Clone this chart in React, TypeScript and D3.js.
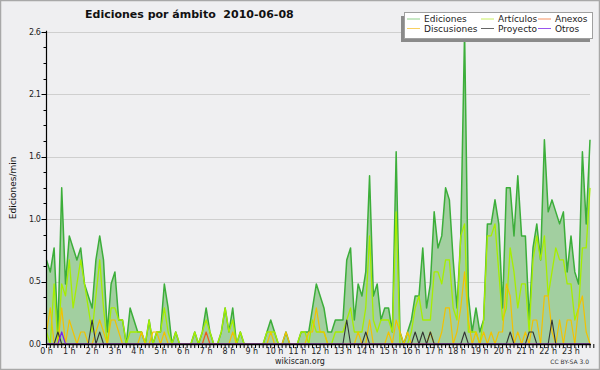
import React from "react";
import * as d3 from "d3";

// 10-minute bins, edits per minute
const ediciones = [
  0.7, 0.6, 0.8, 0.1, 1.3, 0.5,
  0.9, 0.8, 0.7, 0.8, 0.5, 0.4,
  0.3, 0.7, 0.9, 0.7, 0.1, 0.5,
  0.6, 0.2, 0.2, 0.0, 0.3, 0.2,
  0.1, 0.1, 0.0, 0.2, 0.0, 0.1,
  0.1, 0.5, 0.3, 0.0, 0.1, 0.0,
  0.0, 0.0, 0.0, 0.1, 0.0, 0.1,
  0.3, 0.1, 0.0, 0.0, 0.1, 0.3,
  0.1, 0.3, 0.0, 0.1, 0.0, 0.0,
  0.0, 0.0, 0.0, 0.0, 0.1, 0.2,
  0.1, 0.0, 0.0, 0.1, 0.0, 0.0,
  0.0, 0.1, 0.1, 0.1, 0.3, 0.5,
  0.4, 0.3, 0.1, 0.1, 0.2, 0.2,
  0.2, 0.7, 0.8, 0.2, 0.5, 0.4,
  0.6, 1.4, 0.4, 0.5, 0.2, 0.3,
  0.3, 0.1, 1.6, 0.1, 0.0, 0.1,
  0.2, 0.4, 0.4, 0.8, 0.3, 0.5,
  1.1, 0.8, 0.9, 1.3, 1.2, 0.7,
  0.3, 0.9, 2.6, 0.4, 0.1, 0.3,
  0.1, 0.2, 1.0, 1.0, 1.2, 1.0,
  0.3, 1.3, 1.3, 0.9, 1.4, 0.9,
  0.9, 0.2, 0.8, 1.0, 0.7, 1.7,
  1.1, 1.2, 1.1, 1.0, 1.1, 0.6,
  0.9, 0.6, 0.5, 1.6, 1.0, 1.7,
];

const articulos = [
  0.1, 0.0, 0.5, 0.0, 0.5, 0.4,
  0.7, 0.3, 0.5, 0.7, 0.5, 0.3,
  0.1, 0.4, 0.7, 0.3, 0.0, 0.3,
  0.3, 0.2, 0.2, 0.0, 0.1, 0.1,
  0.1, 0.1, 0.0, 0.2, 0.0, 0.1,
  0.1, 0.3, 0.1, 0.0, 0.1, 0.0,
  0.0, 0.0, 0.0, 0.1, 0.0, 0.1,
  0.2, 0.1, 0.0, 0.0, 0.1, 0.3,
  0.1, 0.2, 0.0, 0.1, 0.0, 0.0,
  0.0, 0.0, 0.0, 0.0, 0.1, 0.1,
  0.1, 0.0, 0.0, 0.0, 0.0, 0.0,
  0.0, 0.1, 0.1, 0.0, 0.2, 0.1,
  0.1, 0.1, 0.0, 0.0, 0.1, 0.1,
  0.1, 0.2, 0.3, 0.1, 0.1, 0.1,
  0.3, 0.9, 0.2, 0.1, 0.2, 0.2,
  0.2, 0.1, 1.1, 0.0, 0.0, 0.0,
  0.1, 0.3, 0.4, 0.2, 0.2, 0.2,
  0.6, 0.6, 0.5, 0.7, 0.7, 0.3,
  0.2, 0.9, 1.0, 0.1, 0.1, 0.1,
  0.0, 0.2, 0.9, 0.9, 1.0, 0.6,
  0.2, 0.3, 0.8, 0.6, 0.3, 0.5,
  0.5, 0.1, 0.7, 0.9, 0.7, 0.9,
  0.4, 0.6, 0.8, 0.7, 0.7, 0.5,
  0.5, 0.2, 0.3, 0.8, 0.8, 1.3,
];

const discusiones = [
  0.1, 0.3, 0.0, 0.0, 0.3, 0.0,
  0.2, 0.1, 0.0, 0.1, 0.1, 0.0,
  0.0, 0.1, 0.2, 0.1, 0.0, 0.2,
  0.2, 0.1, 0.0, 0.0, 0.0, 0.0,
  0.0, 0.1, 0.0, 0.0, 0.1, 0.1,
  0.0, 0.1, 0.0, 0.0, 0.0, 0.0,
  0.0, 0.0, 0.0, 0.0, 0.0, 0.0,
  0.0, 0.0, 0.0, 0.0, 0.0, 0.0,
  0.0, 0.1, 0.0, 0.0, 0.0, 0.0,
  0.0, 0.0, 0.0, 0.0, 0.0, 0.1,
  0.0, 0.0, 0.0, 0.1, 0.0, 0.0,
  0.0, 0.0, 0.0, 0.1, 0.1, 0.3,
  0.1, 0.1, 0.0, 0.0, 0.0, 0.0,
  0.0, 0.0, 0.0, 0.0, 0.1, 0.0,
  0.0, 0.2, 0.0, 0.0, 0.0, 0.0,
  0.1, 0.0, 0.2, 0.1, 0.0, 0.1,
  0.0, 0.0, 0.0, 0.0, 0.0, 0.1,
  0.0, 0.0, 0.1, 0.3, 0.3, 0.0,
  0.1, 0.3, 0.6, 0.2, 0.0, 0.1,
  0.0, 0.1, 0.0, 0.1, 0.0, 0.1,
  0.1, 0.5, 0.4, 0.0, 0.1, 0.0,
  0.1, 0.0, 0.2, 0.2, 0.0, 0.4,
  0.4, 0.1, 0.0, 0.2, 0.0, 0.2,
  0.2, 0.0, 0.3, 0.4, 0.1, 0.0,
];

const anexos = [
  0, 0, 0, 0, 0, 0,
  0, 0, 0, 0, 0, 0,
  0, 0, 0, 0, 0, 0,
  0, 0, 0, 0, 0, 0,
  0, 0, 0, 0, 0, 0,
  0, 0, 0, 0, 0, 0,
  0, 0, 0, 0, 0, 0,
  0.1, 0, 0, 0, 0, 0,
  0, 0, 0, 0, 0, 0,
  0, 0, 0, 0, 0, 0,
  0, 0, 0, 0, 0, 0,
  0, 0, 0, 0, 0, 0,
  0, 0, 0, 0, 0, 0,
  0, 0, 0, 0, 0, 0,
  0, 0, 0, 0, 0, 0,
  0, 0, 0, 0, 0, 0,
  0, 0, 0, 0, 0, 0,
  0, 0, 0, 0, 0, 0,
  0, 0, 0, 0, 0, 0,
  0, 0, 0, 0, 0, 0,
  0, 0, 0, 0, 0, 0,
  0, 0, 0, 0, 0, 0,
  0, 0, 0, 0, 0, 0,
  0, 0, 0, 0, 0, 0,
];

const proyecto = [
  0, 0, 0, 0.1, 0, 0,
  0, 0, 0, 0, 0, 0,
  0.2, 0, 0.1, 0, 0, 0,
  0, 0, 0, 0, 0, 0,
  0, 0, 0, 0, 0, 0,
  0, 0, 0, 0, 0, 0,
  0, 0, 0, 0, 0, 0,
  0, 0, 0, 0, 0, 0,
  0, 0, 0, 0, 0, 0,
  0, 0, 0, 0, 0, 0,
  0, 0, 0, 0, 0, 0,
  0, 0, 0, 0, 0, 0,
  0, 0, 0, 0, 0, 0,
  0, 0.2, 0, 0, 0, 0,
  0.1, 0, 0, 0, 0, 0,
  0, 0, 0, 0, 0, 0,
  0, 0.1, 0, 0.1, 0, 0.1,
  0, 0, 0, 0, 0, 0,
  0, 0, 0.1, 0, 0, 0,
  0, 0, 0, 0, 0, 0,
  0, 0, 0.1, 0, 0, 0,
  0, 0.1, 0.1, 0, 0, 0,
  0, 0.2, 0, 0, 0, 0,
  0, 0, 0, 0, 0, 0,
];

const otros = [
  0, 0, 0, 0, 0.1, 0,
  0, 0, 0, 0, 0, 0,
  0, 0, 0, 0, 0, 0,
  0, 0, 0, 0, 0, 0,
  0, 0, 0, 0, 0, 0,
  0, 0, 0, 0, 0, 0,
  0, 0, 0, 0, 0, 0,
  0, 0, 0, 0, 0, 0,
  0, 0, 0, 0, 0, 0,
  0, 0, 0, 0, 0, 0,
  0, 0, 0, 0, 0, 0,
  0, 0, 0, 0, 0, 0,
  0, 0, 0, 0, 0, 0,
  0, 0, 0, 0, 0, 0,
  0, 0, 0, 0, 0, 0,
  0, 0, 0, 0, 0, 0,
  0, 0, 0, 0, 0, 0,
  0, 0, 0, 0, 0, 0,
  0, 0, 0, 0, 0, 0,
  0, 0, 0, 0, 0, 0,
  0, 0, 0, 0, 0, 0,
  0, 0, 0, 0, 0, 0,
  0, 0, 0, 0, 0, 0,
  0, 0, 0, 0, 0, 0,
];

const hourLabels = [
  "0 h", "1 h", "2 h", "3 h", "4 h", "5 h", "6 h", "7 h", "8 h", "9 h", "10 h", "11 h",
  "12 h", "13 h", "14 h", "15 h", "16 h", "17 h", "18 h", "19 h", "20 h", "21 h", "22 h", "23 h",
];

const yMax = 2.6;
const title = "Ediciones por ámbito  2010-06-08";
const yTitle = "Ediciones/min";

const seriesList = [
  { name: "Artículos", data: articulos, color: "#a6ee00", w: 1.3 },
  { name: "Discusiones", data: discusiones, color: "#f2c200", w: 1.2 },
  { name: "Anexos", data: anexos, color: "#ee5a1a", w: 1.2 },
  { name: "Proyecto", data: proyecto, color: "#333333", w: 1.1 },
  { name: "Otros", data: otros, color: "#7a22ee", w: 1.2 },
];

const legendItems = [
  { name: "Ediciones", color: "#8fd08a" },
  { name: "Artículos", color: "#c8ee60" },
  { name: "Anexos", color: "#f59060" },
  { name: "Discusiones", color: "#f8d060" },
  { name: "Proyecto", color: "#666666" },
  { name: "Otros", color: "#9955ee" },
];

const W = 600;
const H = 370;
const FONT = "'DejaVu Sans', Verdana, sans-serif";

export default function App() {
  const left = 46.5;
  const right = 590;
  const top = 31.7;
  const bottom = 344;

  const x = d3.scaleLinear().domain([0, ediciones.length - 1]).range([left, right]);
  const y = d3.scaleLinear().domain([0, yMax]).range([bottom, top]);

  const line = d3
    .line<number>()
    .x((_, i) => x(i))
    .y((d) => y(d));
  const area = d3
    .area<number>()
    .x((_, i) => x(i))
    .y0(y(0))
    .y1((d) => y(d));

  const majorTicks = d3.range(0, 6).map((i) => (yMax * i) / 5);
  const minorTicks = d3.range(0, 21).map((i) => (yMax * i) / 20);
  const fmt = d3.format(".1f");
  const xMinor = d3.range(0, ediciones.length + 1);

  const legendCols = [407, 481, 538];

  return (
    <svg
      width={W}
      height={H}
      style={{ position: "fixed", left: 0, top: 0, display: "block", background: "#efeff1" }}
      fontFamily={FONT}
    >
      <rect x={0.5} y={0.5} width={W - 1} height={H - 1} fill="#efeff1" stroke="#a8a8a8" strokeWidth={1.5} />

      {/* grid */}
      {majorTicks.slice(1).map((t) => (
        <line key={"g" + t} x1={left} x2={right} y1={Math.round(y(t)) + 0.5} y2={Math.round(y(t)) + 0.5} stroke="#cfcfcf" strokeWidth={1} />
      ))}

      {/* Ediciones area & line */}
      <path d={area(ediciones) || ""} fill="#a2cfa0" />
      <path d={line(ediciones) || ""} fill="none" stroke="#3cae3a" strokeWidth={1.5} strokeLinejoin="round" />

      {seriesList.map((s) => (
        <path key={s.name} d={line(s.data) || ""} fill="none" stroke={s.color} strokeWidth={s.w} strokeLinejoin="round" />
      ))}

      {/* y axis */}
      <line x1={left} x2={left} y1={top - 1} y2={bottom} stroke="#000" strokeWidth={1.2} />
      {minorTicks.map((t, i) => (
        <line key={"ym" + i} x1={left - (i % 4 === 0 ? 5 : 3)} x2={left} y1={Math.round(y(t)) + 0.5} y2={Math.round(y(t)) + 0.5} stroke="#000" strokeWidth={1} />
      ))}
      {majorTicks.map((t) => (
        <text key={"yl" + t} x={left - 6} y={y(t)} dy="0.35em" textAnchor="end" fontSize={8} letterSpacing={-0.4} fill="#222">
          {fmt(t)}
        </text>
      ))}
      <text
        transform={`translate(13,${(top + bottom) / 2}) rotate(-90)`}
        textAnchor="middle"
        fontSize={9}
        fill="#111"
        dy="0.35em"
      >
        {yTitle}
      </text>

      {/* x axis */}
      <line x1={left} x2={right + 1} y1={bottom + 0.5} y2={bottom + 0.5} stroke="#000" strokeWidth={1.5} />
      {xMinor.map((i) => (
        <line key={"xm" + i} x1={x(i)} x2={x(i)} y1={bottom} y2={bottom + 4} stroke="#000" strokeWidth={1} />
      ))}
      {hourLabels.map((lab, h) => (
        <text key={lab} x={x(h * 6)} y={354} textAnchor="middle" fontSize={8} fill="#222">
          {lab}
        </text>
      ))}

      {/* title */}
      <text x={85} y={18} fontSize={11} fontWeight="bold" fill="#111" style={{ whiteSpace: "pre" }}>
        {title}
      </text>

      {/* legend */}
      <rect x={401} y={16} width={189} height={26} fill="#8a8a8a" />
      <rect x={404.5} y={12.5} width={188} height={26} fill="#ffffff" stroke="#a0a0a0" strokeWidth={1} />
      {legendItems.map((it, k) => {
        const col = k % 3;
        const row = Math.floor(k / 3);
        const lx = legendCols[col];
        const ly = 19 + row * 9.5;
        return (
          <g key={it.name}>
            <line x1={lx} x2={lx + 13} y1={ly} y2={ly} stroke={it.color} strokeWidth={1} />
            <text x={lx + 17} y={ly + 3} fontSize={9} fill="#222">
              {it.name}
            </text>
          </g>
        );
      })}

      {/* footer */}
      <text x={300} y={364} textAnchor="middle" fontSize={8} fill="#222">
        wikiscan.org
      </text>
      <text x={589} y={364} textAnchor="end" fontSize={6} fill="#333">
        CC BY-SA 3.0
      </text>
    </svg>
  );
}
